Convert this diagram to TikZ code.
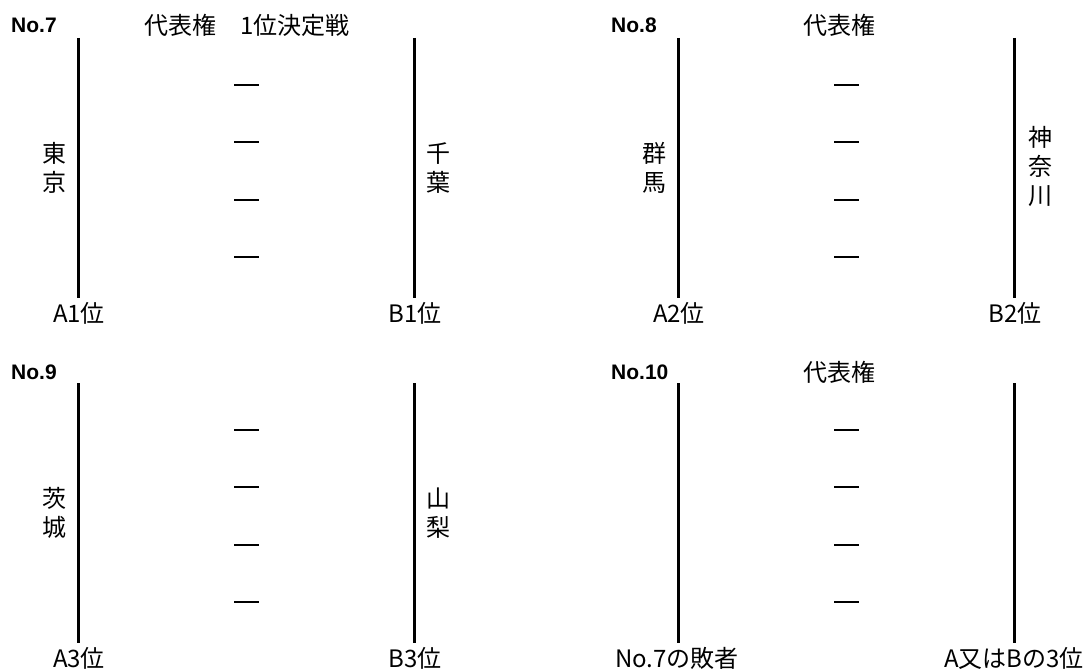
\documentclass[tikz,border=0pt]{standalone}
\usepackage{fontspec}
\setmainfont{Noto Sans CJK JP}
\newfontfamily\numfont{Liberation Sans}
\usetikzlibrary{positioning}
\tikzset{
  team/.style={line width=3pt},
  tick/.style={line width=2pt},
  lbl/.style={inner sep=0pt, font=\fontsize{24}{29}\selectfont, align=center},
  num/.style={inner sep=0pt, anchor=west, font=\numfont\bfseries\fontsize{21}{25}\selectfont},
}
\begin{document}
\begin{tikzpicture}[x=1pt, y=-1pt]
\useasboundingbox (0,0) rectangle (1092,671);

% four match blocks
\foreach \bx/\by/\n in {0/0/7, 600/0/8, 0/345/9, 600/345/10}{
  \coordinate (a\n t) at (\bx+78,\by+38);
  \coordinate (a\n b) at (\bx+78,\by+298);
  \coordinate (b\n t) at (\bx+414,\by+38);
  \coordinate (b\n b) at (\bx+414,\by+298);
  \draw[team] (a\n t) -- (a\n b);
  \draw[team] (b\n t) -- (b\n b);
  \foreach \dy in {85,142,200,257}
    \draw[tick] (\bx+234,\by+\dy) -- ++(25,0);
}

\node[num] (no7) at (11,25) {No.7};
\node[num] (no8) at (611,25) {No.8};
\node[num] (no9) at (11,372) {No.9};
\node[num] (no10) at (611,372) {No.10};

\node[lbl] (head7) at (247,25) {代表権　1位決定戦};
\node[lbl] (head8) at (839,25) {代表権};
\node[lbl] (head10) at (839,372) {代表権};

\node[lbl] (tokyo) at (54,168) {東\\京};
\node[lbl] (chiba) at (438,168) {千\\葉};
\node[lbl] (gunma) at (654,168) {群\\馬};
\node[lbl] (kanagawa) at (1040,166) {神\\奈\\川};
\node[lbl] (ibaraki) at (54,513) {茨\\城};
\node[lbl] (yamanashi) at (438,513) {山\\梨};

\node[lbl] (a1) at (79,313) {A1位};
\node[lbl] (b1) at (415,313) {B1位};
\node[lbl] (a2) at (679,313) {A2位};
\node[lbl] (b2) at (1015,313) {B2位};
\node[lbl] (a3) at (79,658) {A3位};
\node[lbl] (b3) at (415,658) {B3位};
\node[lbl] (loser) at (677,658) {No.7の敗者};
\node[lbl] (third) at (1014,658) {A又はBの3位};
\end{tikzpicture}
\end{document}
